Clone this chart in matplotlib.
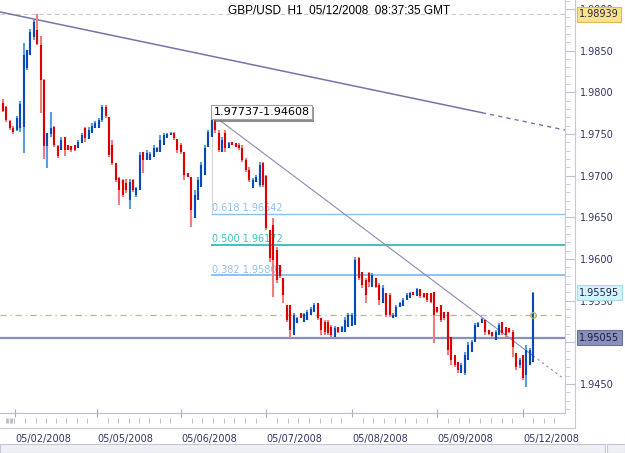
import numpy as np
import matplotlib.pyplot as plt
import matplotlib.patheffects as pe
from matplotlib.lines import Line2D
from matplotlib.patches import Rectangle
import matplotlib.transforms as mtransforms

# hourly GBP/USD bars
opens = [1.9787, 1.9782, 1.9766, 1.9757, 1.9755, 1.9757, 1.9758, 1.9829, 1.9845, 1.9866,
         1.9875, 1.9857, 1.9815, 1.9736, 1.9750, 1.9758, 1.9736, 1.9731, 1.9746, 1.9737,
         1.9736, 1.9737, 1.9733, 1.9739, 1.9757, 1.9744, 1.9751, 1.9757, 1.9757, 1.9767,
         1.9782, 1.9770, 1.9737, 1.9715, 1.9697, 1.9695, 1.9691, 1.9671, 1.9695, 1.9677,
         1.9683, 1.9728, 1.9719, 1.9719, 1.9722, 1.9728, 1.9728, 1.9737, 1.9745, 1.9749,
         1.9751, 1.9744, 1.9737, 1.9728, 1.9703, 1.9698, 1.9649, 1.9671, 1.9686, 1.9701,
         1.9734, 1.9746, 1.9769, 1.9751, 1.9728, 1.9751, 1.9733, 1.9740, 1.9739, 1.9737,
         1.9733, 1.9719, 1.9707, 1.9685, 1.9692, 1.9689, 1.9715, 1.9700, 1.9635, 1.9641,
         1.9611, 1.9593, 1.9577, 1.9545, 1.9545, 1.9509, 1.9523, 1.9535, 1.9524, 1.9527,
         1.9533, 1.9536, 1.9547, 1.9529, 1.9524, 1.9524, 1.9518, 1.9506, 1.9518, 1.9512,
         1.9512, 1.9518, 1.9520, 1.9521, 1.9601, 1.9584, 1.9575, 1.9583, 1.9566, 1.9577,
         1.9569, 1.9547, 1.9559, 1.9557, 1.9529, 1.9530, 1.9542, 1.9544, 1.9551, 1.9553,
         1.9560, 1.9556, 1.9564, 1.9559, 1.9559, 1.9559, 1.9560, 1.9542, 1.9545, 1.9536,
         1.9536, 1.9506, 1.9485, 1.9476, 1.9463, 1.9463, 1.9479, 1.9488, 1.9500, 1.9518,
         1.9523, 1.9527, 1.9515, 1.9512, 1.9503, 1.9509, 1.9524, 1.9518, 1.9517, 1.9512,
         1.9487, 1.9473, 1.9485, 1.9461, 1.9473, 1.9476]
highs = [1.9792, 1.9784, 1.9767, 1.9760, 1.9772, 1.9790, 1.9859, 1.9851, 1.9876, 1.9887,
         1.9894, 1.9868, 1.9816, 1.9751, 1.9776, 1.9760, 1.9737, 1.9746, 1.9746, 1.9737,
         1.9736, 1.9737, 1.9743, 1.9751, 1.9758, 1.9758, 1.9763, 1.9766, 1.9769, 1.9785,
         1.9785, 1.9770, 1.9743, 1.9715, 1.9698, 1.9696, 1.9696, 1.9696, 1.9696, 1.9686,
         1.9728, 1.9728, 1.9731, 1.9728, 1.9737, 1.9734, 1.9749, 1.9751, 1.9751, 1.9752,
         1.9752, 1.9744, 1.9739, 1.9728, 1.9703, 1.9698, 1.9683, 1.9698, 1.9716, 1.9737,
         1.9755, 1.9774, 1.9774, 1.9755, 1.9746, 1.9755, 1.9740, 1.9740, 1.9739, 1.9739,
         1.9737, 1.9721, 1.9710, 1.9697, 1.9701, 1.9716, 1.9716, 1.9701, 1.9635, 1.9649,
         1.9614, 1.9593, 1.9577, 1.9545, 1.9545, 1.9535, 1.9530, 1.9535, 1.9535, 1.9539,
         1.9542, 1.9547, 1.9547, 1.9529, 1.9527, 1.9527, 1.9521, 1.9520, 1.9518, 1.9520,
         1.9530, 1.9535, 1.9535, 1.9602, 1.9602, 1.9584, 1.9577, 1.9584, 1.9583, 1.9577,
         1.9571, 1.9569, 1.9559, 1.9559, 1.9535, 1.9545, 1.9548, 1.9553, 1.9559, 1.9560,
         1.9560, 1.9565, 1.9564, 1.9559, 1.9559, 1.9559, 1.9560, 1.9542, 1.9545, 1.9536,
         1.9536, 1.9506, 1.9485, 1.9476, 1.9475, 1.9488, 1.9500, 1.9503, 1.9523, 1.9524,
         1.9529, 1.9527, 1.9515, 1.9512, 1.9515, 1.9523, 1.9524, 1.9518, 1.9517, 1.9515,
         1.9487, 1.9481, 1.9485, 1.9497, 1.9493, 1.9560]
lows = [1.9776, 1.9764, 1.9755, 1.9750, 1.9754, 1.9752, 1.9727, 1.9827, 1.9845, 1.9863,
        1.9857, 1.9775, 1.9720, 1.9709, 1.9746, 1.9734, 1.9721, 1.9731, 1.9724, 1.9731,
        1.9728, 1.9730, 1.9733, 1.9739, 1.9740, 1.9744, 1.9751, 1.9757, 1.9757, 1.9764,
        1.9769, 1.9722, 1.9713, 1.9692, 1.9665, 1.9674, 1.9679, 1.9660, 1.9680, 1.9674,
        1.9683, 1.9703, 1.9719, 1.9719, 1.9722, 1.9728, 1.9728, 1.9737, 1.9745, 1.9749,
        1.9743, 1.9727, 1.9726, 1.9695, 1.9698, 1.9638, 1.9649, 1.9671, 1.9686, 1.9701,
        1.9734, 1.9746, 1.9751, 1.9728, 1.9728, 1.9728, 1.9733, 1.9737, 1.9734, 1.9731,
        1.9716, 1.9704, 1.9692, 1.9685, 1.9692, 1.9686, 1.9686, 1.9635, 1.9596, 1.9554,
        1.9571, 1.9577, 1.9547, 1.9524, 1.9505, 1.9509, 1.9523, 1.9529, 1.9524, 1.9527,
        1.9533, 1.9536, 1.9527, 1.9509, 1.9509, 1.9509, 1.9506, 1.9506, 1.9511, 1.9512,
        1.9512, 1.9518, 1.9520, 1.9521, 1.9575, 1.9565, 1.9547, 1.9566, 1.9566, 1.9565,
        1.9545, 1.9547, 1.9530, 1.9530, 1.9529, 1.9530, 1.9542, 1.9544, 1.9551, 1.9553,
        1.9557, 1.9556, 1.9553, 1.9553, 1.9548, 1.9547, 1.9499, 1.9535, 1.9524, 1.9527,
        1.9485, 1.9473, 1.9470, 1.9463, 1.9463, 1.9461, 1.9479, 1.9488, 1.9500, 1.9518,
        1.9523, 1.9509, 1.9509, 1.9506, 1.9503, 1.9509, 1.9509, 1.9506, 1.9511, 1.9482,
        1.9467, 1.9469, 1.9455, 1.9446, 1.9473, 1.9476]
closes = [1.9778, 1.9767, 1.9757, 1.9752, 1.9769, 1.9786, 1.9845, 1.9851, 1.9872, 1.9884,
          1.9858, 1.9815, 1.9736, 1.9751, 1.9757, 1.9737, 1.9724, 1.9743, 1.9731, 1.9731,
          1.9731, 1.9731, 1.9740, 1.9749, 1.9745, 1.9755, 1.9760, 1.9763, 1.9767, 1.9782,
          1.9772, 1.9725, 1.9715, 1.9695, 1.9683, 1.9677, 1.9683, 1.9692, 1.9683, 1.9685,
          1.9725, 1.9719, 1.9727, 1.9726, 1.9733, 1.9733, 1.9743, 1.9749, 1.9750, 1.9751,
          1.9745, 1.9731, 1.9728, 1.9701, 1.9698, 1.9659, 1.9677, 1.9695, 1.9713, 1.9733,
          1.9752, 1.9767, 1.9755, 1.9731, 1.9743, 1.9733, 1.9739, 1.9737, 1.9734, 1.9733,
          1.9719, 1.9707, 1.9695, 1.9695, 1.9698, 1.9713, 1.9689, 1.9637, 1.9601, 1.9599,
          1.9575, 1.9580, 1.9557, 1.9527, 1.9515, 1.9533, 1.9529, 1.9529, 1.9534, 1.9536,
          1.9540, 1.9545, 1.9529, 1.9515, 1.9512, 1.9511, 1.9509, 1.9517, 1.9512, 1.9518,
          1.9527, 1.9533, 1.9533, 1.9599, 1.9577, 1.9569, 1.9557, 1.9572, 1.9581, 1.9566,
          1.9551, 1.9565, 1.9533, 1.9533, 1.9533, 1.9542, 1.9547, 1.9551, 1.9557, 1.9559,
          1.9557, 1.9564, 1.9556, 1.9554, 1.9551, 1.9548, 1.9533, 1.9536, 1.9527, 1.9529,
          1.9491, 1.9479, 1.9473, 1.9467, 1.9473, 1.9485, 1.9497, 1.9500, 1.9521, 1.9523,
          1.9528, 1.9512, 1.9510, 1.9508, 1.9512, 1.9521, 1.9511, 1.9509, 1.9512, 1.9494,
          1.9470, 1.9479, 1.9457, 1.9491, 1.9491, 1.9559]

day_pos = [3.5, 27.5, 52, 77, 102, 127, 152]
day_labels = ['05/02/2008', '05/05/2008', '05/06/2008', '05/07/2008',
              '05/08/2008', '05/09/2008', '05/12/2008']

title = 'GBP/USD  H1  05/12/2008  08:37:35 GMT'

# drawing objects
trend1_x = [0, 140]
trend1_y = [1.98957, 1.97756]
trend2_x = [61, 155]
trend2_y = [1.97737, 1.94838]
fib_bar = 61
fib_high = 1.97737
fib_low = 1.94608
fib_levels = [(0.618, 1.96542, '#8fc0f4'), (0.500, 1.96172, '#3cc4c0'), (0.382, 1.95803, '#8fc0f4')]
high_line = 1.98939
support = 1.95055
bid_line = 1.9533
last_price = 1.95595

xmax = 164.3
ymin, ymax = 1.94152, 1.99108

fig = plt.figure(figsize=(6.25, 4.53), dpi=100)
ax = fig.add_axes([0, 40 / 453, 565 / 625, 413 / 453])
ax.set_xlim(-0.88, xmax)
ax.set_ylim(ymin, ymax)

x = np.arange(len(opens))
o = np.array(opens); c = np.array(closes)
up = c >= o
ax.vlines(x[up], np.array(lows)[up], np.array(highs)[up], color='#5a9ce0', lw=1.5, zorder=4)
ax.vlines(x[~up], np.array(lows)[~up], np.array(highs)[~up], color='#ee7c7c', lw=1.5, zorder=4)
ax.vlines(x[up], o[up], c[up], color='#0a4ab8', lw=1.5, zorder=5)
ax.vlines(x[~up], o[~up], c[~up], color='#dc0000', lw=1.5, zorder=5)

# horizontal lines
ax.axhline(high_line, color='#c8c8c8', lw=0.8, ls=(0, (4, 3)), zorder=1)
ax.axhline(support, color='#8890c0', lw=1.6, zorder=2)
ax.axhline(bid_line, color='#b8b890', lw=0.9, ls=(0, (5, 3, 1, 3)), zorder=2)
ax.plot(x[-1], bid_line, 'o', mfc='none', mec='#b0b070', ms=4, zorder=6)

# trend lines
k1 = (trend1_y[1] - trend1_y[0]) / (trend1_x[1] - trend1_x[0])
ax.plot([-0.88, trend1_x[1]], [trend1_y[0] - 0.88 * k1, trend1_y[1]], color='#7474a8', lw=1.1, zorder=3)
ax.plot([trend1_x[1], xmax], [trend1_y[1], trend1_y[1] + k1 * (xmax - trend1_x[1])],
        color='#7474a8', lw=1.0, ls=(0, (3, 3)), zorder=3)
k2 = (trend2_y[1] - trend2_y[0]) / (trend2_x[1] - trend2_x[0])
ax.plot(trend2_x, trend2_y, color='#8a8ab4', lw=0.8, zorder=3)
ax.plot([trend2_x[1], xmax - 0.8], [trend2_y[1], trend2_y[1] + k2 * (xmax - 0.8 - trend2_x[1])],
        color='#8a8ab4', lw=0.8, ls=(0, (2, 3)), zorder=3)

# fibonacci retracement
ax.plot([fib_bar, fib_bar], [fib_high, fib_levels[0][1]], color='#d4d4d4', lw=0.8, zorder=1)
for ratio, lev, col in fib_levels:
    ax.plot([fib_bar, xmax], [lev, lev], color=col, lw=1.4 if ratio != 0.618 else 1.0, zorder=2)
    ax.text(fib_bar + 0.2, lev + 0.00008, '%.3f %.5f' % (ratio, lev), color=col,
            fontsize=7, ha='left', va='bottom', zorder=2)
box = ax.text(fib_bar + 0.5, fib_high + 0.0003, '%.5f-%.5f' % (fib_high, fib_low), fontsize=8,
              ha='left', va='center', zorder=7,
              bbox=dict(boxstyle='square,pad=0.2', fc='white', ec='#a0a0a0', lw=0.8))
box.get_bbox_patch().set_path_effects([pe.withSimplePatchShadow(offset=(2, -2),
                                                                 shadow_rgbFace='#707070', alpha=0.8)])

# axes styling
for s in ['left', 'top']:
    ax.spines[s].set_visible(False)
ax.spines['right'].set_color('#c8c8d4')
ax.spines['bottom'].set_color('#b8bccc')
ax.yaxis.tick_right()
ax.set_yticks(np.arange(1.9450, 1.9901, 0.005))
ax.set_yticklabels(['%.4f' % v for v in np.arange(1.9450, 1.9901, 0.005)])
ax.set_yticks(np.arange(1.9420, 1.9911, 0.001), minor=True)
ax.tick_params(axis='y', which='major', direction='out', length=7, color='#c0c0cc',
               labelsize=7, labelcolor='#333366', pad=3.5)
ax.tick_params(axis='y', which='minor', direction='out', length=3.5, color='#c8c8d4')

ax.set_xticks(day_pos)
ax.set_xticklabels(day_labels, ha='left')
ax.tick_params(axis='x', which='major', direction='inout', length=6, color='#a8acc0',
               labelsize=7, labelcolor='#333366', pad=12)
minor_x = []
for a, b in zip([day_pos[0] - 3.1] + day_pos, day_pos + [day_pos[-1] + 24.6]):
    minor_x += list(np.linspace(a, b, 9)[1:-1])
trans = mtransforms.blended_transform_factory(ax.transData, ax.transAxes)
ax.vlines([m for m in minor_x if -0.5 < m < xmax], -10 / 413, -5 / 413, color='#b8bccc',
          lw=0.7, transform=trans, clip_on=False)

# title
fig.text(339 / 625, 1 - 11 / 453, title, ha='center', va='center', fontsize=8.5,
         family='Liberation Sans')

# right-axis price flags
ytrans = mtransforms.blended_transform_factory(ax.transAxes, ax.transData)
flags = [(high_line, '#ffe38a', '#e0b850', '#222244'),
         (last_price, '#d4f2ff', '#a8dcf0', '#222244'),
         (support, '#8a90bc', '#6a70a0', '#1a1a3a')]
for val, fc, ec, tc in flags:
    ax.text(579 / 565, val, '%.5f' % val, transform=ytrans, fontsize=7, color=tc,
            ha='left', va='center', clip_on=False, zorder=10,
            bbox=dict(boxstyle='square,pad=0.25', fc=fc, ec=ec, lw=0.8))

# frame lines around the axis strips
fig.add_artist(Line2D([575 / 625, 575 / 625], [1 - 428 / 453, 1], color='#c8c8d4', lw=0.8))
fig.add_artist(Line2D([0, 575 / 625], [1 - 428 / 453, 1 - 428 / 453], color='#c8c8d4', lw=0.8))
# scroll bar
fig.add_artist(Rectangle((0, 0), 605 / 625, 9 / 453, fc='#eef0f4', ec='#c4c8d4', lw=0.8))
fig.add_artist(Rectangle((607 / 625, 0), 18 / 625, 9 / 453, fc='#eef0f4', ec='#c4c8d4', lw=0.8))

fig.savefig('out.png', dpi=100)
